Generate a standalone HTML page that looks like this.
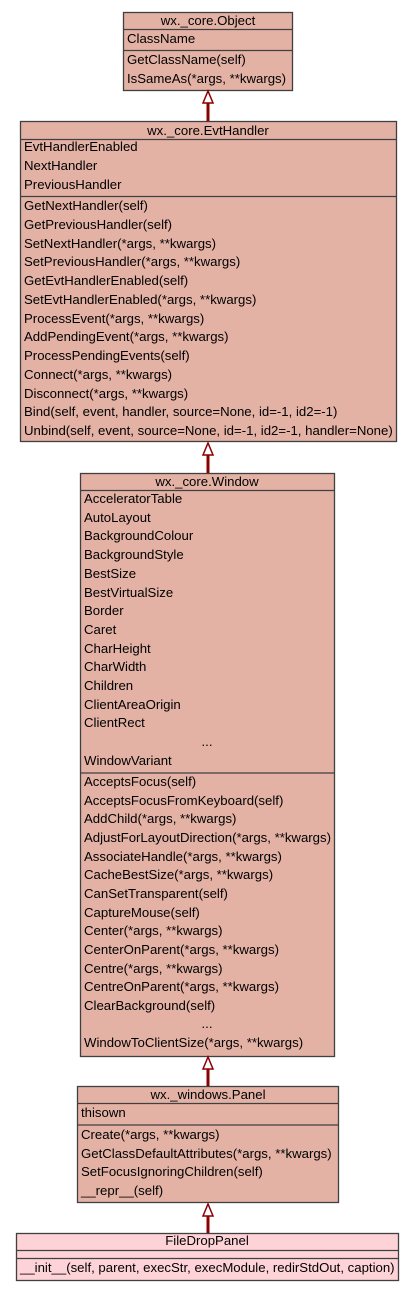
<!DOCTYPE html>
<html><head><meta charset="utf-8"><style>
html,body{margin:0;padding:0;background:#fff;}
svg text{font-family:"Liberation Sans",sans-serif;font-size:13.2px;fill:#000;}
</style></head><body>
<svg width="413" height="1291" viewBox="0 0 413 1291" xmlns="http://www.w3.org/2000/svg">
<g stroke="#404040" stroke-width="1.3">
<rect x="123.5" y="12.5" width="169" height="78" fill="#e3b2a5"/>
<line x1="123" y1="29.5" x2="293" y2="29.5"/><line x1="123" y1="50.5" x2="293" y2="50.5"/>
<rect x="20.5" y="121.5" width="376" height="320" fill="#e3b2a5"/>
<line x1="20" y1="139.5" x2="397" y2="139.5"/><line x1="20" y1="196.5" x2="397" y2="196.5"/>
<rect x="80.5" y="473.5" width="254" height="583" fill="#e3b2a5"/>
<line x1="80" y1="490.5" x2="335" y2="490.5"/><line x1="80" y1="773" x2="335" y2="773"/>
<rect x="77.5" y="1086.5" width="261" height="116" fill="#e3b2a5"/>
<line x1="77" y1="1103.5" x2="339" y2="1103.5"/><line x1="77" y1="1125" x2="339" y2="1125"/>
<rect x="16.5" y="1233.5" width="382" height="47" fill="#fed3d7"/>
<line x1="16" y1="1250.5" x2="399" y2="1250.5"/><line x1="16" y1="1258.5" x2="399" y2="1258.5"/>
</g>
<g stroke="#8b0000" fill="#fff">
<line x1="208" y1="103" x2="208" y2="121" stroke-width="3"/>
<polygon points="208,91 203,103 213,103" stroke-width="1.5"/>
<line x1="208" y1="455" x2="208" y2="473" stroke-width="3"/>
<polygon points="208,443 203,455 213,455" stroke-width="1.5"/>
<line x1="208" y1="1069" x2="208" y2="1086" stroke-width="3"/>
<polygon points="208,1057 203,1069 213,1069" stroke-width="1.5"/>
<line x1="208" y1="1216" x2="208" y2="1233" stroke-width="3"/>
<polygon points="208,1204 203,1216 213,1216" stroke-width="1.5"/>
</g>
<text x="208" y="25" text-anchor="middle">wx._core.Object</text>
<text x="127" y="43">ClassName</text>
<text x="127" y="64">GetClassName(self)</text>
<text x="127" y="83">IsSameAs(*args, **kwargs)</text>

<text x="208" y="135" text-anchor="middle">wx._core.EvtHandler</text>
<text x="24" y="151">EvtHandlerEnabled</text>
<text x="24" y="170">NextHandler</text>
<text x="24" y="189">PreviousHandler</text>
<text x="24" y="210">GetNextHandler(self)</text>
<text x="24" y="229">GetPreviousHandler(self)</text>
<text x="24" y="248">SetNextHandler(*args, **kwargs)</text>
<text x="24" y="266">SetPreviousHandler(*args, **kwargs)</text>
<text x="24" y="285">GetEvtHandlerEnabled(self)</text>
<text x="24" y="304">SetEvtHandlerEnabled(*args, **kwargs)</text>
<text x="24" y="323">ProcessEvent(*args, **kwargs)</text>
<text x="24" y="341">AddPendingEvent(*args, **kwargs)</text>
<text x="24" y="360">ProcessPendingEvents(self)</text>
<text x="24" y="379">Connect(*args, **kwargs)</text>
<text x="24" y="398">Disconnect(*args, **kwargs)</text>
<text x="24" y="416">Bind(self, event, handler, source=None, id=-1, id2=-1)</text>
<text x="24" y="435">Unbind(self, event, source=None, id=-1, id2=-1, handler=None)</text>

<text x="207" y="486" text-anchor="middle">wx._core.Window</text>
<text x="84" y="503">AcceleratorTable</text>
<text x="84" y="522">AutoLayout</text>
<text x="84" y="540">BackgroundColour</text>
<text x="84" y="559">BackgroundStyle</text>
<text x="84" y="578">BestSize</text>
<text x="84" y="597">BestVirtualSize</text>
<text x="84" y="615">Border</text>
<text x="84" y="634">Caret</text>
<text x="84" y="653">CharHeight</text>
<text x="84" y="671">CharWidth</text>
<text x="84" y="690">Children</text>
<text x="84" y="709">ClientAreaOrigin</text>
<text x="84" y="727">ClientRect</text>
<text x="207" y="746" text-anchor="middle">...</text>
<text x="84" y="765">WindowVariant</text>
<text x="84" y="786">AcceptsFocus(self)</text>
<text x="84" y="805">AcceptsFocusFromKeyboard(self)</text>
<text x="84" y="823">AddChild(*args, **kwargs)</text>
<text x="84" y="842">AdjustForLayoutDirection(*args, **kwargs)</text>
<text x="84" y="861">AssociateHandle(*args, **kwargs)</text>
<text x="84" y="879">CacheBestSize(*args, **kwargs)</text>
<text x="84" y="898">CanSetTransparent(self)</text>
<text x="84" y="917">CaptureMouse(self)</text>
<text x="84" y="935">Center(*args, **kwargs)</text>
<text x="84" y="954">CenterOnParent(*args, **kwargs)</text>
<text x="84" y="973">Centre(*args, **kwargs)</text>
<text x="84" y="991">CentreOnParent(*args, **kwargs)</text>
<text x="84" y="1010">ClearBackground(self)</text>
<text x="207" y="1028" text-anchor="middle">...</text>
<text x="84" y="1047">WindowToClientSize(*args, **kwargs)</text>

<text x="208" y="1099" text-anchor="middle">wx._windows.Panel</text>
<text x="81" y="1117">thisown</text>
<text x="81" y="1139">Create(*args, **kwargs)</text>
<text x="81" y="1158">GetClassDefaultAttributes(*args, **kwargs)</text>
<text x="81" y="1176">SetFocusIgnoringChildren(self)</text>
<text x="81" y="1195">__repr__(self)</text>

<text x="207" y="1245" text-anchor="middle">FileDropPanel</text>
<text x="20" y="1272">__init__(self, parent, execStr, execModule, redirStdOut, caption)</text>
</svg>
</body></html>
